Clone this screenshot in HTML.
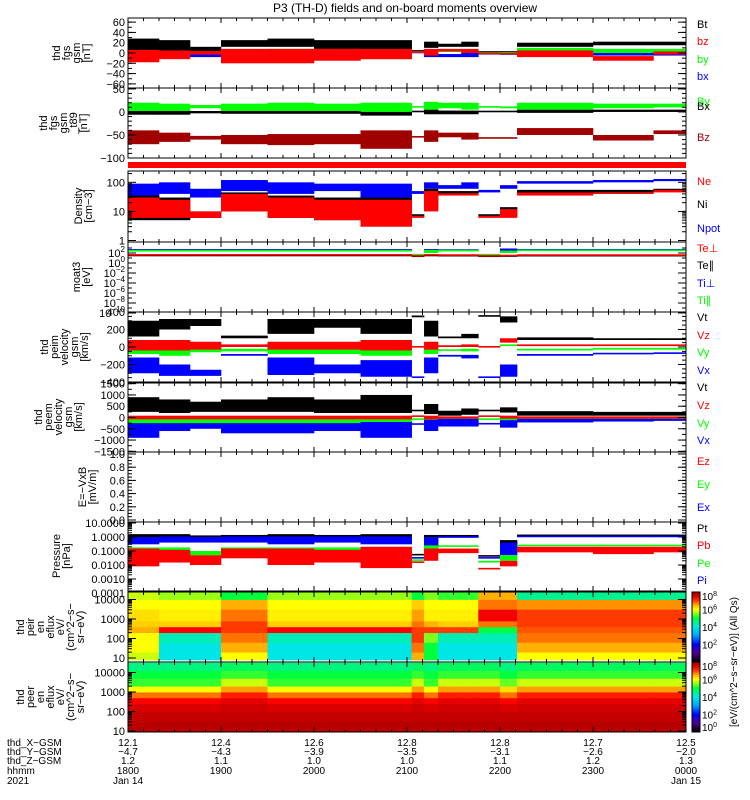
<!DOCTYPE html>
<html><head><meta charset="utf-8"><style>
html,body{margin:0;padding:0;background:#fff;}
svg{display:block;font-family:"Liberation Sans",sans-serif;}
</style></head><body>
<svg id="chart" width="750" height="800" viewBox="0 0 750 800" xmlns="http://www.w3.org/2000/svg">
<text x="405" y="12" text-anchor="middle" font-size="12">P3 (TH-D) fields and on-board moments overview</text>
<g id="g"></g>
</svg>
<script>
// ---- time segment breakpoints (minutes after 18:00) ----
const segBreaks = [0,20,40,60,90,120,150,183,191,200,215,226,240,251,300,339,360];
// panel 1 fgs gsm
const btLo=[3,3,3,12,12,8,5,3,10,12,12,1,1,12,15,15];
const btHi=[28,25,12,25,28,25,25,5,22,18,22,3,3,20,22,22];
const bzLo=[-18,-12,-3,-20,-20,-15,-12,1,-5,3,0,-2,-3,-8,-15,-3];
const bzHi=[6,5,4,8,8,8,8,3,8,8,8,0,0,5,-6,3];
const byLo=[-12,-8,-3,-8,-8,-10,-12,1,0,2,0,-1,-1,0,0,0];
const byHi=[4,4,3,6,8,6,6,3,6,6,5,1,1,10,8,8];
const bxLo=[-8,-8,-8,-5,-8,-8,-10,0,-8,-8,-8,-3,-3,-5,-5,-5];
const bxHi=[4,3,0,4,4,4,4,2,0,-2,0,0,-1,2,2,2];
// panel 2 fgs gsm t89
const tByLo=[2,2,8,2,2,2,0,10,5,8,5,10,8,5,8,10];
const tByHi=[20,18,15,18,20,18,20,12,22,20,20,12,12,20,18,18];
const tBxLo=[-6,-6,-3,-4,-4,-4,-8,0,-5,-5,-5,0,0,-2,0,0];
const tBxHi=[4,4,2,4,4,4,4,2,5,3,3,2,2,5,5,5];
const tBzLo=[-70,-65,-60,-70,-72,-70,-80,-55,-65,-55,-60,-58,-58,-50,-62,-48];
const tBzHi=[-40,-45,-52,-50,-48,-48,-40,-53,-40,-45,-45,-55,-55,-35,-50,-40];
// panel 3 density
const npotLo=[30,40,30,50,40,50,30,40,60,60,60,45,60,90,100,110];
const npotHi=[90,100,60,120,100,90,90,50,100,80,100,55,80,110,120,130];
const niLo=[5,5,6,10,6,5,3,7,12,40,40,7,7,40,45,50];
const niHi=[35,30,10,45,35,30,30,8,60,50,50,8,14,55,55,60];
const neLo=[6,6,6,10,6,5,3,6,10,35,35,6,6,35,40,45];
const neHi=[30,25,10,40,30,25,25,7,50,42,42,7,12,45,45,55];
// panel 4 temperatures
const tiPerpLo=[250,250,250,250,250,250,250,40,150,300,300,40,200,400,400,400];
const tiPerpHi=[600,600,600,600,600,600,600,50,600,500,500,50,800,500,500,500];
const tiParLo=[200,200,200,200,200,200,200,40,100,250,250,40,100,300,300,300];
const tiParHi=[400,400,400,400,400,400,400,50,400,350,350,50,300,400,400,400];
const teParLo=[25,25,25,25,25,25,25,20,25,25,25,20,20,25,25,25];
const teParHi=[40,40,40,40,40,40,40,25,40,35,35,25,30,35,35,35];
const tePerpLo=[30,30,30,30,30,30,30,25,30,30,30,25,25,30,30,30];
const tePerpHi=[60,60,60,60,60,60,60,30,60,50,50,30,40,50,50,50];
// panel 5 peim velocity
const iVtLo=[120,200,240,100,150,220,150,340,120,100,100,350,280,80,80,80];
const iVtHi=[300,320,320,130,320,320,320,360,300,120,150,360,350,110,100,100];
const iVzLo=[-40,-40,-30,0,-30,-30,-40,0,-30,0,0,0,50,10,10,10];
const iVzHi=[80,80,60,30,60,60,80,5,60,20,30,5,100,30,30,30];
const iVyLo=[-80,-100,-60,-50,-80,-80,-100,0,-80,-40,-50,0,10,-40,-30,-30];
const iVyHi=[30,30,20,-20,20,20,30,5,20,-30,-20,5,30,-20,-10,-10];
const iVxLo=[-300,-330,-330,-100,-320,-300,-340,-350,-300,-110,-130,-350,-340,-100,-80,-75];
const iVxHi=[-120,-200,-260,-80,-120,-200,-150,-340,-120,-90,-90,-340,-200,-80,-70,-65];
// panel 6 peem velocity
const eVtLo=[250,200,250,250,250,200,200,300,150,80,120,300,220,80,80,80];
const eVtHi=[900,800,700,800,900,800,1000,320,600,300,400,320,450,280,250,250];
const eVzLo=[-80,-80,-80,-80,-80,-80,-80,50,-80,-50,-50,50,-50,-50,-50,-50];
const eVzHi=[80,80,80,80,80,80,80,70,80,50,50,70,80,50,50,50];
const eVyLo=[-300,-350,-300,-300,-300,-300,-400,-80,-250,-200,-200,-80,-250,-120,-100,-100];
const eVyHi=[0,0,0,0,0,0,0,-60,0,-20,-20,-60,0,0,0,0];
const eVxLo=[-900,-600,-500,-700,-700,-600,-900,-300,-600,-400,-400,-300,-450,-220,-180,-150];
const eVxHi=[-250,-250,-250,-250,-250,-250,-200,-280,-100,-60,-60,-250,-120,-60,-60,-60];
// panel 8 pressure
const ptLo=[0.4,0.5,0.5,0.5,0.4,0.5,0.4,0.05,0.2,1.0,1.0,0.04,0.1,1.1,1.1,1.1];
const ptHi=[1.6,1.6,1.3,1.4,1.6,1.4,1.6,0.06,1.4,1.4,1.4,0.05,0.6,1.5,1.5,1.5];
const piLo=[0.3,0.4,0.4,0.4,0.3,0.4,0.3,0.03,0.1,0.9,0.9,0.03,0.05,1.0,1.0,1.0];
const piHi=[1,1.1,1,1.1,1.1,1.1,1.1,0.035,1.0,1.1,1.1,0.035,0.4,1.2,1.2,1.2];
const peLo=[0.06,0.06,0.05,0.06,0.06,0.06,0.04,0.02,0.05,0.2,0.2,0.015,0.02,0.22,0.22,0.22];
const peHi=[0.18,0.18,0.1,0.18,0.18,0.18,0.18,0.025,0.25,0.25,0.25,0.02,0.05,0.28,0.28,0.28];
const pbLo=[0.008,0.015,0.01,0.03,0.01,0.015,0.006,0.015,0.02,0.07,0.07,0.005,0.008,0.08,0.06,0.08];
const pbHi=[0.15,0.12,0.05,0.15,0.15,0.12,0.2,0.017,0.15,0.15,0.15,0.006,0.02,0.2,0.2,0.2];
// spectrograms: log10 energy row edges and log10 eflux per segment (bottom->top)
const ionEdges=[0.9,1.3,1.8,2.3,2.6,2.9,3.5,4.0,4.4];
const ionFlux=[
 [5.8,6.0,6.0,6.5,6.3,6.2,6.0,5.8],[4.0,4.0,4.3,7.2,6.3,6.1,6.0,5.6],[4.0,4.0,4.3,7.2,6.3,6.1,6.0,5.6],
 [6.0,6.5,6.8,7.0,7.0,6.8,6.5,5.0],[4.0,4.0,4.3,7.2,6.3,6.1,6.0,5.6],[4.0,4.0,4.3,7.2,6.3,6.1,6.0,5.6],
 [4.0,4.0,4.3,7.2,6.3,6.1,6.0,5.6],[6.5,6.8,7.0,7.0,6.8,6.6,6.3,5.0],[5.0,5.0,5.5,7.0,6.5,6.1,6.0,5.5],
 [4.0,4.0,4.3,7.0,6.3,6.1,6.0,5.2],[4.0,4.0,4.3,7.0,6.3,6.1,6.0,5.2],[4.0,4.0,4.3,5.0,6.8,7.3,6.8,6.5],
 [4.0,4.0,4.3,5.0,6.8,7.3,6.8,6.5],[6.0,6.5,6.8,6.9,7.0,7.0,6.7,4.5],[6.0,6.5,6.8,6.9,7.0,7.0,6.7,4.5],
 [6.0,6.5,6.8,6.9,7.0,7.0,6.7,4.5]];
const eleEdges=[0.9,1.5,2.0,2.4,2.7,3.0,3.3,3.7,4.1,4.5];
const eleFlux=[
 [7.8,7.7,7.5,7.2,6.8,6.0,5.2,5.0,4.6],[7.8,7.7,7.5,7.2,6.8,6.0,5.2,5.0,4.6],[7.8,7.7,7.5,7.2,6.8,6.0,5.2,5.0,4.6],
 [7.8,7.7,7.6,7.4,7.1,6.6,5.8,5.2,4.8],[7.8,7.7,7.5,7.2,6.8,6.0,5.2,5.0,4.6],[7.8,7.7,7.5,7.2,6.8,6.0,5.2,5.0,4.6],
 [7.8,7.7,7.5,7.2,6.8,6.0,5.2,5.0,4.6],[7.8,7.7,7.6,7.4,7.1,6.6,5.8,5.2,4.8],[7.8,7.7,7.5,7.2,6.8,6.0,5.2,5.0,4.6],
 [7.8,7.7,7.6,7.4,7.1,6.6,5.8,5.2,4.8],[7.8,7.7,7.6,7.4,7.1,6.6,5.8,5.2,4.8],[7.8,7.7,7.6,7.4,7.1,6.6,5.8,5.2,4.8],
 [7.8,7.7,7.5,7.2,6.8,6.2,5.4,5.0,4.6],[7.8,7.7,7.6,7.4,7.1,6.6,5.8,5.2,4.8],[7.8,7.7,7.6,7.4,7.1,6.6,5.8,5.2,4.8],
 [7.8,7.7,7.6,7.4,7.1,6.6,5.8,5.2,4.8]];
// ephemeris
const ephX=["12.1","12.4","12.6","12.8","12.8","12.7","12.5"];
const ephY=["\u22124.7","\u22124.3","\u22123.9","\u22123.5","\u22123.1","\u22122.6","\u22122.0"];
const ephZ=["1.2","1.1","1.0","1.0","1.1","1.2","1.3"];
const hhmm=["1800","1900","2000","2100","2200","2300","0000"];

const NS="http://www.w3.org/2000/svg";
const G=document.getElementById('g');
function el(tag,attrs,parent){const e=document.createElementNS(NS,tag);for(const k in attrs)e.setAttribute(k,attrs[k]);(parent||G).appendChild(e);return e;}
const X0=128,X1=686;
function xS(t){return X0+t*(X1-X0)/360;}
function lin(d0,d1,r0,r1){return v=>r0+(v-d0)*(r1-r0)/(d1-d0);}
function logS(d0,d1,r0,r1){return v=>r0+(Math.log10(v)-Math.log10(d0))*(r1-r0)/(Math.log10(d1)-Math.log10(d0));}

function band(lo,hi,ys,color,name){
  const grp=el('g',{});
  
  
  for(let i=0;i<lo.length;i++){
    const xa=xS(segBreaks[i]),xb=xS(segBreaks[i+1]);
    let y1=ys(hi[i]),y2=ys(lo[i]);
    if(y2-y1<1.6){const m=(y1+y2)/2;y1=m-0.8;y2=m+0.8;}
    const r=el('rect',{x:xa,y:y1,width:xb-xa+0.3,height:y2-y1,fill:color},grp);
    
    
  }
}
function frame(top,bot,name){
  const f=el('rect',{x:X0,y:top,width:X1-X0,height:bot-top,fill:'none',stroke:'#000','stroke-width':1});
  
  
  for(let m=0;m<=360;m+=10){
    const x=xS(m),L=(m%60===0)?5:3;
    el('line',{x1:x,y1:top,x2:x,y2:top+L,stroke:'#000'});
    el('line',{x1:x,y1:bot,x2:x,y2:bot-L,stroke:'#000'});
  }
}
function yTicks(ys,major,minor,labels,top,bot){
  for(const v of minor){const y=ys(v);if(y<top-0.5||y>bot+0.5)continue;
    el('line',{x1:X0,y1:y,x2:X0+4,y2:y,stroke:'#000'});el('line',{x1:X1,y1:y,x2:X1-4,y2:y,stroke:'#000'});}
  major.forEach((v,i)=>{const y=ys(v);
    el('line',{x1:X0,y1:y,x2:X0+8,y2:y,stroke:'#000'});el('line',{x1:X1,y1:y,x2:X1-8,y2:y,stroke:'#000'});
    const t=el('text',{x:X0-3,y:y+4,'text-anchor':'end','font-size':11});
    
    
    const lab=labels[i];
    if(typeof lab==='object'){t.textContent=lab[0];const s=el('tspan',{dy:-5,'font-size':8},t);s.textContent=lab[1];}
    else t.textContent=lab;
  });
}
function leftLabel(lines,cy,lastX,name){
  const grp=el('g',{});
  
  
  const n=lines.length;
  lines.forEach((s,i)=>{const x=lastX-(n-1-i)*10;
    const t=el('text',{x:x,y:cy,'text-anchor':'middle','font-size':11,transform:`rotate(-90 ${x} ${cy})`},grp);t.textContent=s;});
}
function legend(items){
  items.forEach(([s,c,y])=>{const t=el('text',{x:697,y:y,'font-size':11,fill:c});
    
    
    t.textContent=s;});
}
function range(a,b,s){const r=[];for(let v=a;v<=b+1e-9;v+=s)r.push(+v.toFixed(6));return r;}
function logMinor(e0,e1){const r=[];for(let e=e0;e<e1;e++)for(let k=1;k<10;k++)r.push(k*Math.pow(10,e));return r;}

const GREEN='#00ff00',BLUE='#0000ff',RED='#ff0000',DRED='#a00000';

// Panel 1
(function(){const t=18,b=88,ys=lin(-68,68,b,t);
 band(btLo,btHi,ys,'#000','bt-series');band(bxLo,bxHi,ys,BLUE,'bx-series');band(byLo,byHi,ys,GREEN,'by-series');band(bzLo,bzHi,ys,RED,'bz-series');
 frame(t,b,'fgs-panel');yTicks(ys,[60,40,20,0,-20,-40,-60],range(-60,60,10),["60","40","20","0","\u221220","\u221240","\u221260"],t,b);
 leftLabel(["thd","fgs","gsm","[nT]"],53,90,'fgs-y-title');
 legend([["Bt","#000",28],["bz",RED,45],["by",GREEN,63],["bx",BLUE,80]]);})();
// Panel 2
(function(){const t=88,b=158,ys=lin(-100,52,b,t);
 band(tBxLo,tBxHi,ys,'#000','t89-bx-series');band(tByLo,tByHi,ys,GREEN,'t89-by-series');band(tBzLo,tBzHi,ys,DRED,'t89-bz-series');
 frame(t,b,'fgs-t89-panel');yTicks(ys,[50,0,-50,-100],range(-100,50,10),["50","0","\u221250","\u2212100"],t,b);
 leftLabel(["thd","fgs","gsm","_t89","[nT]"],123,87,'fgs-t89-y-title');
 legend([["By",GREEN,105],["Bx","#000",110],["Bz",DRED,141]]);})();
// red bar
(function(){const r=el('rect',{x:X0,y:162,width:X1-X0,height:6,fill:RED});})();
// Panel 3 density
(function(){const t=171,b=242,ys=logS(1,245,240.5,t);
 band(npotLo,npotHi,ys,BLUE,'npot-series');band(niLo,niHi,ys,'#000','ni-series');band(neLo,neHi,ys,RED,'ne-series');
 frame(t,b,'density-panel');yTicks(ys,[100,10,1],logMinor(0,2).concat([200]),["100","10","1"],t,b);
 leftLabel(["Density","[cm\u22123]"],206,92,'density-y-title');
 legend([["Ne",RED,185],["Ni","#000",208],["Npot",BLUE,232]]);})();
// Panel 4 moat3
(function(){const t=242,b=312,ys=v=>263-5*Math.log10(v);
 band(tiPerpLo,tiPerpHi,ys,BLUE,'ti-perp-series');band(tiParLo,tiParHi,ys,GREEN,'ti-par-series');band(teParLo,teParHi,ys,'#000','te-par-series');band(tePerpLo,tePerpHi,ys,RED,'te-perp-series');
 frame(t,b,'moat3-panel');
 const maj=[100,1,0.01,1e-4,1e-6,1e-8,1e-10];
 yTicks(ys,maj,[1000,10,0.1,1e-3,1e-5,1e-7,1e-9],[["10","2"],["10","0"],["10","\u22122"],["10","\u22124"],["10","\u22126"],["10","\u22128"],["10","\u221210"]],t,b);
 leftLabel(["moat3","[eV]"],277,90,'moat3-y-title');
 legend([["Te\u22a5",RED,252],["Te\u2225","#000",269],["Ti\u22a5",BLUE,287],["Ti\u2225",GREEN,304]]);})();
// Panel 5 peim
(function(){const t=312,b=382,ys=lin(-400,400,b,t);
 band(iVtLo,iVtHi,ys,'#000','peim-vt-series');band(iVyLo,iVyHi,ys,GREEN,'peim-vy-series');band(iVxLo,iVxHi,ys,BLUE,'peim-vx-series');band(iVzLo,iVzHi,ys,RED,'peim-vz-series');
 frame(t,b,'peim-velocity-panel');yTicks(ys,[400,200,0,-200,-400],range(-400,400,50),["400","200","0","\u2212200","\u2212400"],t,b);
 leftLabel(["thd","peim","velocity","gsm","[km/s]"],347,88,'peim-y-title');
 legend([["Vt","#000",321],["Vz",RED,339],["Vy",GREEN,356],["Vx",BLUE,374]]);})();
// Panel 6 peem
(function(){const t=383,b=452,ys=lin(-1530,1530,b,t);
 band(eVtLo,eVtHi,ys,'#000','peem-vt-series');band(eVyLo,eVyHi,ys,GREEN,'peem-vy-series');band(eVxLo,eVxHi,ys,BLUE,'peem-vx-series');band(eVzLo,eVzHi,ys,RED,'peem-vz-series');
 frame(t,b,'peem-velocity-panel');yTicks(ys,[1500,1000,500,0,-500,-1000,-1500],range(-1500,1500,250),["1500","1000","500","0","\u2212500","\u22121000","\u22121500"],t,b);
 leftLabel(["thd","peem","velocity","gsm","[km/s]"],417,82,'peem-y-title');
 legend([["Vt","#000",391],["Vz",RED,409],["Vy",GREEN,427],["Vx",BLUE,444]]);})();
// Panel 7 E field
(function(){const t=452,b=522,ys=lin(0,1.03,520,t);
 frame(t,b,'efield-panel');yTicks(ys,[1.0,0.8,0.6,0.4,0.2,0.0],range(0,1,0.05),["1.0","0.8","0.6","0.4","0.2","0.0"],t,b);
 leftLabel(["E=\u2212VxB","[mV/m]"],487,96,'efield-y-title');
 legend([["Ez",RED,465],["Ey",GREEN,488],["Ex",BLUE,511]]);})();
// Panel 8 pressure
(function(){const t=522,b=591,ys=v=>537-14*Math.log10(v);
 band(ptLo,ptHi,ys,'#000','pt-series');band(piLo,piHi,ys,BLUE,'pi-series');band(peLo,peHi,ys,GREEN,'pe-series');band(pbLo,pbHi,ys,RED,'pb-series');
 frame(t,b,'pressure-panel');yTicks(ys,[10,1,0.1,0.01,0.001,0.0001],logMinor(-4,1),["10.0000","1.0000","0.1000","0.0100","0.0010","0.0001"],t,b);
 leftLabel(["Pressure","[nPa]"],556,70,'pressure-y-title');
 legend([["Pt","#000",532],["Pb",RED,549],["Pe",GREEN,567],["Pi",BLUE,584]]);})();

// colormap
const cStops=[[0,[0,0,0]],[1,[80,0,140]],[2,[0,0,255]],[3,[0,160,255]],[4,[0,230,230]],[5,[0,255,60]],[6,[255,255,0]],[6.7,[255,144,0]],[7.2,[255,0,0]],[8,[160,0,0]]];
function cmap(v){v=Math.max(0,Math.min(8,v));for(let i=1;i<cStops.length;i++){if(v<=cStops[i][0]){const[a,ca]=cStops[i-1],[b,cb]=cStops[i];const f=(v-a)/(b-a);
  return 'rgb('+ca.map((c,k)=>Math.round(c+(cb[k]-c)*f)).join(',')+')';}}return 'rgb(160,0,0)';}
function spectro(top,bot,edges,flux,ys,name){
  const grp=el('g',{});
  
  
  for(let i=0;i<flux.length;i++){const xa=xS(segBreaks[i]),xb=xS(segBreaks[i+1]);
    for(let j=0;j<edges.length-1;j++){let y1=Math.max(top,ys(edges[j+1])),y2=Math.min(bot,ys(edges[j]));if(y2<=y1)continue;
      const r=el('rect',{x:xa,y:y1,width:xb-xa+0.4,height:y2-y1+0.4,fill:cmap(flux[i][j])},grp);
      
      }}
}
// Panel 9 ion spectrogram
(function(){const t=592,b=662,ys=e=>658-19.5*(e-1);
 spectro(t,b,ionEdges,ionFlux,ys,'peir-spectrogram');frame(t,b,'peir-panel');
 yTicks(v=>ys(Math.log10(v)),[10000,1000,100,10],logMinor(1,4).filter(v=>ys(Math.log10(v))<=b),["10000","1000","100","10"],t,b);
 leftLabel(["thd","peir","en","eflux","eV/","(cm^2\u2212s\u2212","sr\u2212eV)"],627,84,'peir-y-title');})();
// Panel 10 electron spectrogram
(function(){const t=662,b=732,ys=e=>731-19.5*(e-1);
 spectro(t,b,eleEdges,eleFlux,ys,'peer-spectrogram');frame(t,b,'peer-panel');
 yTicks(v=>ys(Math.log10(v)),[10000,1000,100,10],logMinor(1,4),["10000","1000","100","10"],t,b);
 leftLabel(["thd","peer","en","eflux","eV/","(cm^2\u2212s\u2212","sr\u2212eV)"],697,84,'peer-y-title');})();
// colorbars
(function(){
 const defs=el('defs',{});const lg=el('linearGradient',{id:'cb',x1:0,y1:1,x2:0,y2:0},defs);
 for(let v=0;v<=8;v+=0.5)el('stop',{offset:(v/8),'stop-color':cmap(v)},lg);
 [[592,662,'ion-colorbar'],[662,732,'electron-colorbar']].forEach(([t,b,n])=>{
  const r=el('rect',{x:692,y:t,width:8,height:b-t,fill:'url(#cb)',stroke:'#000'});
  [8,6,4,2,0].forEach(e=>{const y=b-(e/8)*(b-t);if(e===0&&t===592)return;
   const tx=el('text',{x:702,y:Math.min(b-1,Math.max(t+8,y+4)),'font-size':10});
   tx.textContent='10';const s=el('tspan',{dy:-4,'font-size':7},tx);s.textContent=String(e);});
 });
 const lt=el('text',{x:737,y:662,'text-anchor':'middle','font-size':10,transform:'rotate(-90 737 662)'});
 
 lt.textContent='[eV/(cm^2\u2212s\u2212sr\u2212eV)] (All Qs)';})();
// ephemeris
(function(){const rows=[["thd_X\u2212GSM",ephX,746],["thd_Y\u2212GSM",ephY,755],["thd_Z\u2212GSM",ephZ,764],["hhmm",hhmm,774]];
 rows.forEach(([lab,vals,y])=>{const t=el('text',{x:7,y:y,'font-size':10});t.textContent=lab;
  vals.forEach((v,i)=>{const tt=el('text',{x:xS(i*60),y:y,'text-anchor':'middle','font-size':10});tt.textContent=v;});});
 const yr=el('text',{x:7,y:784,'font-size':10});yr.textContent='2021';
 const d1=el('text',{x:xS(0),y:784,'text-anchor':'middle','font-size':10});d1.textContent='Jan 14';
 const d2=el('text',{x:xS(360),y:784,'text-anchor':'middle','font-size':10});d2.textContent='Jan 15';})();
</script>
</body></html>
